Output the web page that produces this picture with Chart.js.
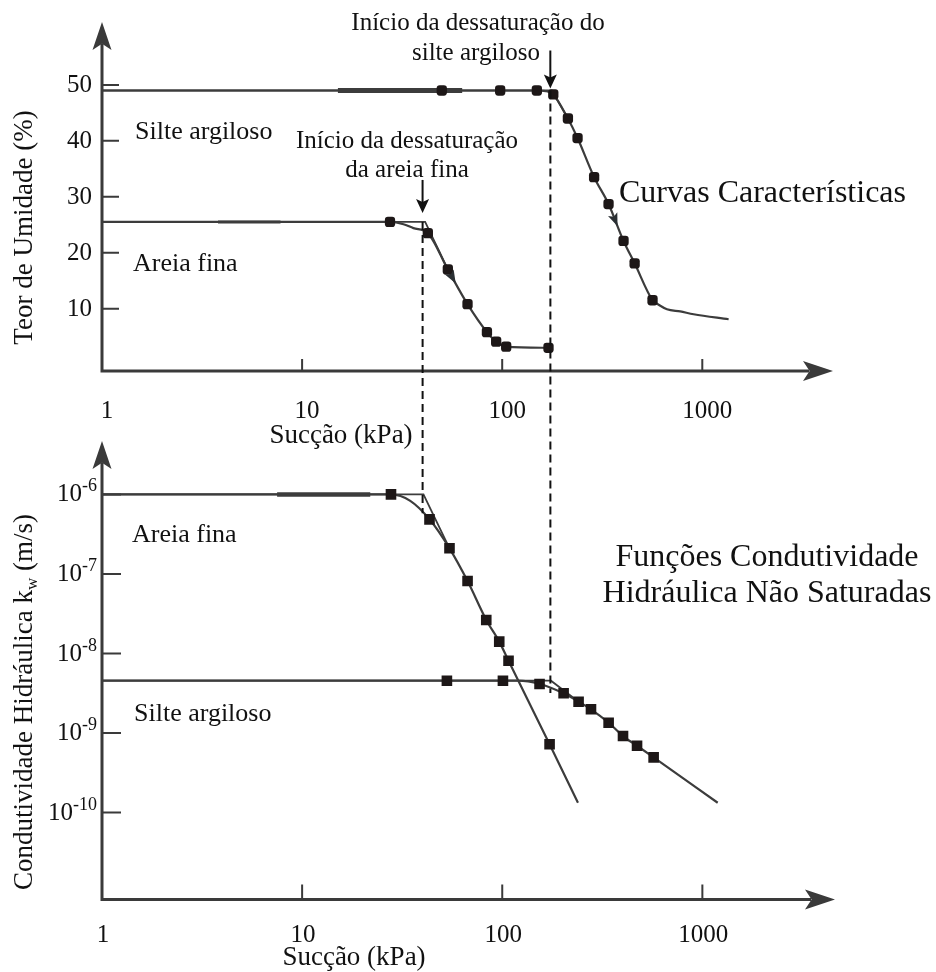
<!DOCTYPE html>
<html lang="pt">
<head>
<meta charset="utf-8">
<title>Curvas características e funções de condutividade hidráulica</title>
<script src="https://cdn.jsdelivr.net/npm/chart.js@4.4.1/dist/chart.umd.min.js"></script>
<style>
  html, body { margin: 0; padding: 0; background: #fff; }
  #wrap { position: relative; width: 936px; height: 972px; }
  #wrap canvas { position: absolute; left: 0; top: 0; }
</style>
</head>
<body>
<div id="wrap">
  <canvas id="cTop" width="936" height="972"></canvas>
  <canvas id="cBot" width="936" height="972"></canvas>
</div>
<script>
// ---------- Suction axis (kPa), common to both panels ----------
const suctionTicks = [1, 10, 100, 1000];
const suctionTickLabels = ['1', '10', '100', '1000'];

// Air-entry suction (início da dessaturação), kPa: [areia fina, silte argiloso]
const airEntrySuction = [40, 174];

// ---------- Upper panel: teor de umidade (%) ----------
const thetaTicks = [10, 20, 30, 40, 50];

// Areia fina - measured points
const sandThetaS = [27.5, 42.5, 53.5, 67.1, 83.9, 93.3, 104.7, 170.4];
const sandThetaV = [25.5, 23.5, 17.0, 10.8, 5.8, 4.1, 3.2, 3.0];
// Areia fina - fitted curve
const sandThetaFitS = [1, 27.5, 32.1, 36.0, 42.5, 53.5, 67.1, 83.9, 93.3, 104.7, 170.4];
const sandThetaFitV = [25.5, 25.5, 25.1, 24.4, 23.5, 17.0, 10.8, 5.8, 4.1, 3.2, 3.0];
// Areia fina - plateau / tangent construction
const sandThetaTanS = [1, 41.2, 53.5];
const sandThetaTanV = [25.5, 25.5, 17.0];

// Silte argiloso - measured points
const siltThetaS = [49.9, 97.7, 149, 180, 213, 238, 288, 340, 404, 459, 564];
const siltThetaV = [49.0, 49.0, 49.0, 48.3, 44.0, 40.5, 33.5, 28.7, 22.1, 18.1, 11.5];
// Silte argiloso - fitted curve
const siltThetaFitS = [1, 149, 165, 180, 213, 238, 288, 340, 404, 459, 564, 605, 666, 776, 905, 1354];
const siltThetaFitV = [49.0, 49.0, 48.9, 48.3, 44.0, 40.5, 33.5, 28.7, 22.1, 18.1, 11.5, 10.7, 9.9, 9.5, 9.0, 8.1];
// Silte argiloso - plateau / tangent construction
const siltThetaTanS = [1, 177, 213];
const siltThetaTanV = [49.0, 49.0, 44.0];

// ---------- Lower panel: condutividade hidráulica kw (m/s) ----------
const kTicks = [1e-6, 1e-7, 1e-8, 1e-9, 1e-10];
const kTickExponents = ['-6', '-7', '-8', '-9', '-10'];

// Areia fina - measured points
const sandKS = [27.8, 43.3, 54.5, 67.1, 83.2, 96.6, 107.5, 172.4];
const sandKV = [1.0e-6, 4.86e-7, 2.10e-7, 8.14e-8, 2.64e-8, 1.41e-8, 8.12e-9, 7.22e-10];
// Areia fina - fitted curve
const sandKFitS = [1, 27.8, 34.7, 43.3, 54.5, 67.1, 83.2, 96.6, 107.5, 172.4, 239];
const sandKFitV = [1.0e-6, 1.0e-6, 8.3e-7, 4.86e-7, 2.10e-7, 8.14e-8, 2.64e-8, 1.41e-8, 8.12e-9, 7.22e-10, 1.33e-10];
// Areia fina - plateau / tangent construction
const sandKTanS = [1, 40.4, 54.5];
const sandKTanV = [1.0e-6, 1.0e-6, 2.10e-7];

// Silte argiloso - measured points
const siltKS = [52.9, 100.8, 153.6, 202.6, 240.7, 277.6, 340.1, 401.3, 471.6, 570.8];
const siltKV = [4.55e-9, 4.55e-9, 4.14e-9, 3.16e-9, 2.48e-9, 1.99e-9, 1.35e-9, 9.18e-10, 6.93e-10, 4.95e-10];
// Silte argiloso - fitted curve
const siltKFitS = [1, 120, 153.6, 202.6, 240.7, 277.6, 340.1, 401.3, 471.6, 570.8, 1193];
const siltKFitV = [4.55e-9, 4.55e-9, 4.14e-9, 3.16e-9, 2.48e-9, 1.99e-9, 1.35e-9, 9.18e-10, 6.93e-10, 4.95e-10, 1.33e-10];
// Silte argiloso - plateau / tangent construction
const siltKTanS = [1, 175.2, 240.7];
const siltKTanV = [4.55e-9, 4.55e-9, 2.48e-9];

// Heavier stretches of the saturated plateaus
const siltThetaHeavyS = [15.1, 63.1];
const siltThetaHeavyV = [49.0, 49.0];
const sandThetaHeavyS = [3.8, 7.8];
const sandThetaHeavyV = [25.5, 25.5];
const sandKHeavyS = [7.5, 21.9];
const sandKHeavyV = [1.0e-6, 1.0e-6];

// Dashed guides: where they start on the upper panel and stop on the lower one
const guideThetaStart = [25.5, 49.0];
const guideKEnd = [5.8e-7, 3.2e-9];

// ---------- styling ----------
const SERIF = '"Liberation Serif", "Times New Roman", serif';
const INK = '#111111';
const AXIS = '#3a3a3a';
const LINE = '#3c3c3c';
const MARK = '#1d1717';

function pairs(xs, ys) { return xs.map((x, i) => ({ x: x, y: ys[i] })); }

// Chart.js paints the first dataset last, so "order" keeps markers above the lines
function curve(xs, ys, width, smooth, order) {
  return {
    data: pairs(xs, ys), borderColor: LINE, borderWidth: width,
    pointRadius: 0, fill: false, tension: 0, order: order,
    cubicInterpolationMode: smooth ? 'monotone' : 'default'
  };
}
function markers(xs, ys, style, r) {
  return {
    data: pairs(xs, ys), showLine: false, pointStyle: style, pointRadius: r, order: 0,
    pointBackgroundColor: MARK, pointBorderColor: MARK, pointBorderWidth: 0
  };
}

function text(ctx, s, x, y, size, align) {
  ctx.font = size + 'px ' + SERIF;
  ctx.textAlign = align || 'left';
  ctx.textBaseline = 'alphabetic';
  ctx.fillStyle = INK;
  ctx.fillText(s, x, y);
}

// filled arrow head with a slightly hollow back, tip at (tx, ty), pointing along (dx, dy)
function arrowHead(ctx, tx, ty, dx, dy, len, half, color) {
  const n = Math.hypot(dx, dy); dx /= n; dy /= n;
  const bx = tx - dx * len, by = ty - dy * len;
  const px = -dy, py = dx;
  ctx.beginPath();
  ctx.moveTo(tx, ty);
  ctx.lineTo(bx + px * half, by + py * half);
  ctx.lineTo(tx - dx * len * 0.78, ty - dy * len * 0.78);
  ctx.lineTo(bx - px * half, by - py * half);
  ctx.closePath();
  ctx.fillStyle = color;
  ctx.fill();
}

function drawAxes(chart, yTicks, xTickLen, yTickLen) {
  const { ctx, chartArea: a, scales } = chart;
  ctx.save();
  ctx.strokeStyle = AXIS;
  ctx.lineWidth = 3;
  ctx.lineCap = 'butt';
  ctx.beginPath();
  ctx.moveTo(a.left, a.bottom + 1.5);
  ctx.lineTo(a.left, a.top + 22);
  ctx.moveTo(a.left - 1.5, a.bottom);
  ctx.lineTo(a.right - 24, a.bottom);
  ctx.stroke();
  arrowHead(ctx, a.left, a.top, 0, -1, 28, 9.5, AXIS);
  arrowHead(ctx, a.right, a.bottom, 1, 0, 30, 10, AXIS);
  ctx.lineWidth = 2;
  ctx.beginPath();
  yTicks.forEach(v => {
    const y = scales.y.getPixelForValue(v);
    ctx.moveTo(a.left, y); ctx.lineTo(a.left + yTickLen, y);
  });
  suctionTicks.slice(1).forEach(s => {
    const x = scales.x.getPixelForValue(s);
    ctx.moveTo(x, a.bottom); ctx.lineTo(x, a.bottom - xTickLen);
  });
  ctx.stroke();
  ctx.restore();
}

function drawSuctionLabels(chart, baseline, shift) {
  const { ctx, scales } = chart;
  suctionTicks.forEach((s, i) => {
    text(ctx, suctionTickLabels[i], scales.x.getPixelForValue(s) + shift, baseline, 25, 'center');
  });
}

function drawFlowArrow(chart, xs, ys, i, t) {
  // small arrow placed on the segment between points i and i+1, at fraction t
  const { ctx, scales } = chart;
  const x0 = scales.x.getPixelForValue(xs[i]), y0 = scales.y.getPixelForValue(ys[i]);
  const x1 = scales.x.getPixelForValue(xs[i + 1]), y1 = scales.y.getPixelForValue(ys[i + 1]);
  const cx = x0 + (x1 - x0) * t, cy = y0 + (y1 - y0) * t;
  const dx = x1 - x0, dy = y1 - y0, n = Math.hypot(dx, dy);
  arrowHead(ctx, cx + dx / n * 6, cy + dy / n * 6, dx, dy, 13, 5, '#2a2f33');
}

const upperDecor = {
  id: 'upperDecor',
  beforeDatasetsDraw(chart) {
    drawAxes(chart, thetaTicks, 12, 17);
  },
  afterDraw(chart) {
    const { ctx, scales } = chart;
    ctx.save();
    // tick labels
    thetaTicks.forEach(v => text(ctx, String(v), 92, scales.y.getPixelForValue(v) + 7, 25, 'right'));
    drawSuctionLabels(chart, 418, 5);
    text(ctx, 'Sucção (kPa)', 341, 443, 27, 'center');
    // axis title
    ctx.save();
    ctx.translate(32, 227.5);
    ctx.rotate(-Math.PI / 2);
    text(ctx, 'Teor de Umidade (%)', 0, 0, 27, 'center');
    ctx.restore();
    // soil names
    text(ctx, 'Silte argiloso', 135, 139, 26);
    text(ctx, 'Areia fina', 133, 270.5, 26);
    // annotations
    text(ctx, 'Início da dessaturação do', 478, 30, 25, 'center');
    text(ctx, 'silte argiloso', 476, 60, 25, 'center');
    text(ctx, 'Início da dessaturação', 407, 147.5, 25, 'center');
    text(ctx, 'da areia fina', 407, 176.5, 25, 'center');
    // pointer arrows to the air-entry values
    ctx.strokeStyle = INK;
    ctx.lineWidth = 2;
    const pointers = [[airEntrySuction[0], guideThetaStart[0], 9, 33], [airEntrySuction[1], guideThetaStart[1], 2, 38]];
    pointers.forEach(p => {
      const x = scales.x.getPixelForValue(p[0]);
      const tip = scales.y.getPixelForValue(p[1]) - p[2];
      ctx.beginPath();
      ctx.moveTo(x, tip - p[3]); ctx.lineTo(x, tip - 8);
      ctx.stroke();
      arrowHead(ctx, x, tip, 0, 1, 14, 6.5, INK);
    });
    // flow direction marks on the drying curves
    drawFlowArrow(chart, sandThetaS, sandThetaV, 2, 0.25);
    drawFlowArrow(chart, siltThetaS, siltThetaV, 7, 0.45);
    // panel title
    text(ctx, 'Curvas Características', 619, 202, 32);
    ctx.restore();
  }
};

const upperChart = new Chart(document.getElementById('cTop'), {
  type: 'line',
  data: {
    datasets: [
      markers(sandThetaS, sandThetaV, 'rectRounded', 6),
      markers(siltThetaS, siltThetaV, 'rectRounded', 6),
      curve(sandThetaFitS, sandThetaFitV, 2.2, true, 1),
      curve(siltThetaFitS, siltThetaFitV, 2.2, true, 1),
      curve(sandThetaTanS, sandThetaTanV, 1.8, false, 2),
      curve(siltThetaTanS, siltThetaTanV, 1.8, false, 2),
      curve(siltThetaHeavyS, siltThetaHeavyV, 5, false, 1),
      curve(sandThetaHeavyS, sandThetaHeavyV, 3, false, 1)
    ]
  },
  options: {
    responsive: false,
    animation: false,
    events: [],
    layout: { padding: { left: 102, top: 22, right: 103, bottom: 601 } },
    plugins: { legend: { display: false }, tooltip: { enabled: false } },
    scales: {
      x: { type: 'logarithmic', min: 1, max: 4500, bounds: 'data', display: false },
      y: { type: 'linear', min: -1.15, max: 61.25, bounds: 'data', display: false }
    }
  },
  plugins: [upperDecor]
});

const lowerDecor = {
  id: 'lowerDecor',
  beforeDatasetsDraw(chart) {
    drawAxes(chart, kTicks, 15, 19);
  },
  afterDraw(chart) {
    const { ctx, scales } = chart;
    ctx.save();
    // tick labels 10^n
    kTicks.forEach((v, i) => {
      const base = scales.y.getPixelForValue(v) + 7;
      ctx.font = '18px ' + SERIF;
      const w = ctx.measureText(kTickExponents[i]).width;
      text(ctx, kTickExponents[i], 97, base - 10, 18, 'right');
      text(ctx, '10', 97 - w, base, 25, 'right');
    });
    drawSuctionLabels(chart, 942, 1);
    text(ctx, 'Sucção (kPa)', 354, 965, 27, 'center');
    // axis title with subscript
    ctx.save();
    ctx.translate(32, 702);
    ctx.rotate(-Math.PI / 2);
    const partA = 'Condutividade Hidráulica k', partB = 'w', partC = ' (m/s)';
    ctx.font = '27px ' + SERIF;
    const wA = ctx.measureText(partA).width, wC = ctx.measureText(partC).width;
    ctx.font = '17px ' + SERIF;
    const wB = ctx.measureText(partB).width;
    let x0 = -(wA + wB + wC) / 2;
    text(ctx, partA, x0, 0, 27);
    text(ctx, partB, x0 + wA, 5, 17);
    text(ctx, partC, x0 + wA + wB, 0, 27);
    ctx.restore();
    // soil names
    text(ctx, 'Areia fina', 132, 541.5, 26);
    text(ctx, 'Silte argiloso', 134, 721, 26);
    // panel title
    text(ctx, 'Funções Condutividade', 767, 566, 32, 'center');
    text(ctx, 'Hidráulica Não Saturadas', 767, 602, 32, 'center');
    // dashed guides through both panels
    ctx.strokeStyle = INK;
    ctx.lineWidth = 2;
    ctx.setLineDash([8, 5]);
    airEntrySuction.forEach((s, i) => {
      const x = scales.x.getPixelForValue(s);
      const y0 = upperChart.scales.y.getPixelForValue(guideThetaStart[i]);
      const y1 = scales.y.getPixelForValue(guideKEnd[i]);
      ctx.beginPath();
      ctx.moveTo(x, y0); ctx.lineTo(x, y1);
      ctx.stroke();
    });
    ctx.restore();
  }
};

new Chart(document.getElementById('cBot'), {
  type: 'line',
  data: {
    datasets: [
      markers(sandKS, sandKV, 'rect', 7.5),
      markers(siltKS, siltKV, 'rect', 7.5),
      curve(sandKFitS, sandKFitV, 2.2, true, 1),
      curve(siltKFitS, siltKFitV, 2.2, true, 1),
      curve(sandKTanS, sandKTanV, 1.8, false, 2),
      curve(siltKTanS, siltKTanV, 1.8, false, 2),
      curve(sandKHeavyS, sandKHeavyV, 4.5, false, 1)
    ]
  },
  options: {
    responsive: false,
    animation: false,
    events: [],
    layout: { padding: { left: 102, top: 441, right: 101, bottom: 72.5 } },
    plugins: { legend: { display: false }, tooltip: { enabled: false } },
    scales: {
      x: { type: 'logarithmic', min: 1, max: 4600, bounds: 'data', display: false },
      y: { type: 'logarithmic', min: 8.09e-12, max: 4.69e-6, bounds: 'data', display: false }
    }
  },
  plugins: [lowerDecor]
});
</script>
</body>
</html>
